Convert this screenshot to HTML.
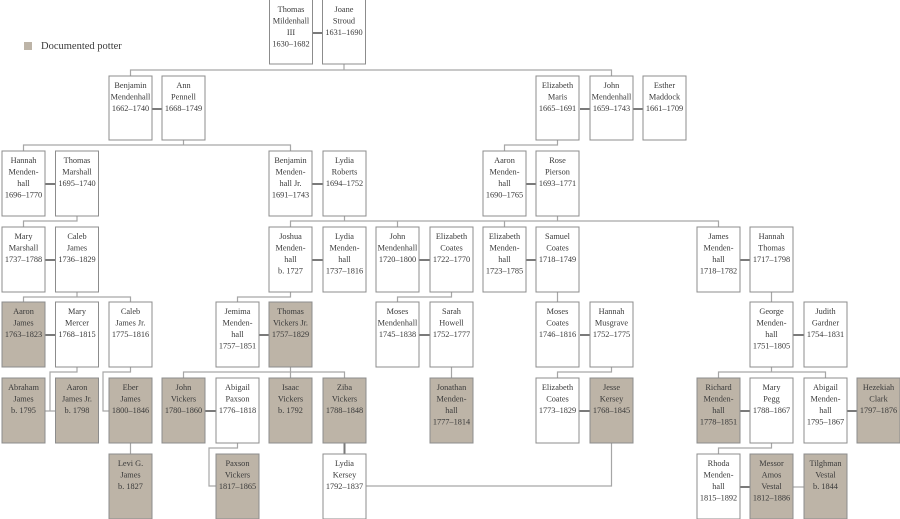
<!DOCTYPE html>
<html><head><meta charset="utf-8"><style>
html,body{margin:0;padding:0;background:#fff;}
svg{display:block;}
text{font-family:"Liberation Serif",serif;font-size:8.3px;fill:#3a3a3a;text-anchor:middle;}
.b{fill:#fff;stroke:#8c8c8c;stroke-width:1;}
.f{fill:#bdb4a7;stroke:#8c8c8c;stroke-width:1;}
.l{stroke:#a6a6a6;stroke-width:1.2;fill:none;}
.s{stroke:#7a7a7a;stroke-width:2;fill:none;}
</style></head><body>
<svg width="900" height="519" viewBox="0 0 900 519" xmlns="http://www.w3.org/2000/svg">
<rect x="24" y="42" width="8" height="8" fill="#bdb4a7"/>
<text x="41" y="49" style="text-anchor:start;font-size:10.5px">Documented potter</text>

<g class="l">
<path d="M344 64V70M130.5 76V70H611.5V76"/>
<path d="M183.5 140V145M23.5 151V145H290.5V151"/>
<path d="M557.5 140V145H504.5V151"/>
<path d="M77 216V221H23.5V227"/>
<path d="M344.5 216V221M290.5 227V221H718.5V227M397.5 221V227M504.5 221V227M557.5 216V221"/>
<path d="M77 292V297M23.5 302V297H130.5V302"/>
<path d="M290.5 292V297H237.5V302"/>
<path d="M451.5 292V297H397.5V302"/>
<path d="M557.5 292V302"/>
<path d="M771.5 292V302"/>
<path d="M77 367V372H50V411M45 411H55"/>
<path d="M130.5 367V372H103V411H109"/>
<path d="M290.5 367V372M183.5 378V372H344.5V378M290.5 372V378"/>
<path d="M451.5 367V378"/>
<path d="M611.5 367V372H557.5V378"/>
<path d="M771.5 367V372M718.5 378V372H825.5V378"/>
<path d="M237.5 443V448H209V486H216"/>
<path d="M365 486H611.5V443"/>
<path d="M771.5 443V448H718.5V454"/>
<path d="M130.5 443V454"/>
<path d="M793 487H804"/>
</g>
<g class="s">
<path d="M312 33H323M152 109H162M580 109H590M633 109H643"/>
<path d="M45 184H55M312 184H323M526 184H536"/>
<path d="M45 260H55M312 260H323M419 260H430M526 260H536M740 260H750"/>
<path d="M45 335H55M259 335H269M419 335H430M580 335H590M793 335H804"/>
<path d="M205 411H216M579 411H590M740 411H750M847 411H857"/>
<path d="M344.5 443V454M740 487H750"/>
</g>

<g>
<rect class="b" x="269.5" y="-1" width="43" height="65"/><text x="291" y="12">Thomas</text><text x="291" y="23.5">Mildenhall</text><text x="291" y="35">III</text><text x="291" y="46.5">1630–1682</text>
<rect class="b" x="322.5" y="-1" width="43" height="65"/><text x="344" y="12">Joane</text><text x="344" y="23.5">Stroud</text><text x="344" y="35">1631–1690</text>

<rect class="b" x="109" y="76" width="43" height="64"/><text x="130.5" y="88">Benjamin</text><text x="130.5" y="99.5">Mendenhall</text><text x="130.5" y="111">1662–1740</text>
<rect class="b" x="162" y="76" width="43" height="64"/><text x="183.5" y="88">Ann</text><text x="183.5" y="99.5">Pennell</text><text x="183.5" y="111">1668–1749</text>
<rect class="b" x="536" y="76" width="43" height="64"/><text x="557.5" y="88">Elizabeth</text><text x="557.5" y="99.5">Maris</text><text x="557.5" y="111">1665–1691</text>
<rect class="b" x="590" y="76" width="43" height="64"/><text x="611.5" y="88">John</text><text x="611.5" y="99.5">Mendenhall</text><text x="611.5" y="111">1659–1743</text>
<rect class="b" x="643" y="76" width="43" height="64"/><text x="664.5" y="88">Esther</text><text x="664.5" y="99.5">Maddock</text><text x="664.5" y="111">1661–1709</text>

<rect class="b" x="2" y="151" width="43" height="65"/><text x="23.5" y="163">Hannah</text><text x="23.5" y="174.5">Menden-</text><text x="23.5" y="186">hall</text><text x="23.5" y="197.5">1696–1770</text>
<rect class="b" x="55.5" y="151" width="43" height="65"/><text x="77" y="163">Thomas</text><text x="77" y="174.5">Marshall</text><text x="77" y="186">1695–1740</text>
<rect class="b" x="269" y="151" width="43" height="65"/><text x="290.5" y="163">Benjamin</text><text x="290.5" y="174.5">Menden-</text><text x="290.5" y="186">hall Jr.</text><text x="290.5" y="197.5">1691–1743</text>
<rect class="b" x="323" y="151" width="43" height="65"/><text x="344.5" y="163">Lydia</text><text x="344.5" y="174.5">Roberts</text><text x="344.5" y="186">1694–1752</text>
<rect class="b" x="483" y="151" width="43" height="65"/><text x="504.5" y="163">Aaron</text><text x="504.5" y="174.5">Menden-</text><text x="504.5" y="186">hall</text><text x="504.5" y="197.5">1690–1765</text>
<rect class="b" x="536" y="151" width="43" height="65"/><text x="557.5" y="163">Rose</text><text x="557.5" y="174.5">Pierson</text><text x="557.5" y="186">1693–1771</text>

<rect class="b" x="2" y="227" width="43" height="65"/><text x="23.5" y="239">Mary</text><text x="23.5" y="250.5">Marshall</text><text x="23.5" y="262">1737–1788</text>
<rect class="b" x="55.5" y="227" width="43" height="65"/><text x="77" y="239">Caleb</text><text x="77" y="250.5">James</text><text x="77" y="262">1736–1829</text>
<rect class="b" x="269" y="227" width="43" height="65"/><text x="290.5" y="239">Joshua</text><text x="290.5" y="250.5">Menden-</text><text x="290.5" y="262">hall</text><text x="290.5" y="273.5">b. 1727</text>
<rect class="b" x="323" y="227" width="43" height="65"/><text x="344.5" y="239">Lydia</text><text x="344.5" y="250.5">Menden-</text><text x="344.5" y="262">hall</text><text x="344.5" y="273.5">1737–1816</text>
<rect class="b" x="376" y="227" width="43" height="65"/><text x="397.5" y="239">John</text><text x="397.5" y="250.5">Mendenhall</text><text x="397.5" y="262">1720–1800</text>
<rect class="b" x="430" y="227" width="43" height="65"/><text x="451.5" y="239">Elizabeth</text><text x="451.5" y="250.5">Coates</text><text x="451.5" y="262">1722–1770</text>
<rect class="b" x="483" y="227" width="43" height="65"/><text x="504.5" y="239">Elizabeth</text><text x="504.5" y="250.5">Menden-</text><text x="504.5" y="262">hall</text><text x="504.5" y="273.5">1723–1785</text>
<rect class="b" x="536" y="227" width="43" height="65"/><text x="557.5" y="239">Samuel</text><text x="557.5" y="250.5">Coates</text><text x="557.5" y="262">1718–1749</text>
<rect class="b" x="697" y="227" width="43" height="65"/><text x="718.5" y="239">James</text><text x="718.5" y="250.5">Menden-</text><text x="718.5" y="262">hall</text><text x="718.5" y="273.5">1718–1782</text>
<rect class="b" x="750" y="227" width="43" height="65"/><text x="771.5" y="239">Hannah</text><text x="771.5" y="250.5">Thomas</text><text x="771.5" y="262">1717–1798</text>

<rect class="f" x="2" y="302" width="43" height="65"/><text x="23.5" y="314">Aaron</text><text x="23.5" y="325.5">James</text><text x="23.5" y="337">1763–1823</text>
<rect class="b" x="55.5" y="302" width="43" height="65"/><text x="77" y="314">Mary</text><text x="77" y="325.5">Mercer</text><text x="77" y="337">1768–1815</text>
<rect class="b" x="109" y="302" width="43" height="65"/><text x="130.5" y="314">Caleb</text><text x="130.5" y="325.5">James Jr.</text><text x="130.5" y="337">1775–1816</text>
<rect class="b" x="216" y="302" width="43" height="65"/><text x="237.5" y="314">Jemima</text><text x="237.5" y="325.5">Menden-</text><text x="237.5" y="337">hall</text><text x="237.5" y="348.5">1757–1851</text>
<rect class="f" x="269" y="302" width="43" height="65"/><text x="290.5" y="314">Thomas</text><text x="290.5" y="325.5">Vickers Jr.</text><text x="290.5" y="337">1757–1829</text>
<rect class="b" x="376" y="302" width="43" height="65"/><text x="397.5" y="314">Moses</text><text x="397.5" y="325.5">Mendenhall</text><text x="397.5" y="337">1745–1838</text>
<rect class="b" x="430" y="302" width="43" height="65"/><text x="451.5" y="314">Sarah</text><text x="451.5" y="325.5">Howell</text><text x="451.5" y="337">1752–1777</text>
<rect class="b" x="536" y="302" width="43" height="65"/><text x="557.5" y="314">Moses</text><text x="557.5" y="325.5">Coates</text><text x="557.5" y="337">1746–1816</text>
<rect class="b" x="590" y="302" width="43" height="65"/><text x="611.5" y="314">Hannah</text><text x="611.5" y="325.5">Musgrave</text><text x="611.5" y="337">1752–1775</text>
<rect class="b" x="750" y="302" width="43" height="65"/><text x="771.5" y="314">George</text><text x="771.5" y="325.5">Menden-</text><text x="771.5" y="337">hall</text><text x="771.5" y="348.5">1751–1805</text>
<rect class="b" x="804" y="302" width="43" height="65"/><text x="825.5" y="314">Judith</text><text x="825.5" y="325.5">Gardner</text><text x="825.5" y="337">1754–1831</text>

<rect class="f" x="2" y="378" width="43" height="65"/><text x="23.5" y="390">Abraham</text><text x="23.5" y="401.5">James</text><text x="23.5" y="413">b. 1795</text>
<rect class="f" x="55.5" y="378" width="43" height="65"/><text x="77" y="390">Aaron</text><text x="77" y="401.5">James Jr.</text><text x="77" y="413">b. 1798</text>
<rect class="f" x="109" y="378" width="43" height="65"/><text x="130.5" y="390">Eber</text><text x="130.5" y="401.5">James</text><text x="130.5" y="413">1800–1846</text>
<rect class="f" x="162" y="378" width="43" height="65"/><text x="183.5" y="390">John</text><text x="183.5" y="401.5">Vickers</text><text x="183.5" y="413">1780–1860</text>
<rect class="b" x="216" y="378" width="43" height="65"/><text x="237.5" y="390">Abigail</text><text x="237.5" y="401.5">Paxson</text><text x="237.5" y="413">1776–1818</text>
<rect class="f" x="269" y="378" width="43" height="65"/><text x="290.5" y="390">Isaac</text><text x="290.5" y="401.5">Vickers</text><text x="290.5" y="413">b. 1792</text>
<rect class="f" x="323" y="378" width="43" height="65"/><text x="344.5" y="390">Ziba</text><text x="344.5" y="401.5">Vickers</text><text x="344.5" y="413">1788–1848</text>
<rect class="f" x="430" y="378" width="43" height="65"/><text x="451.5" y="390">Jonathan</text><text x="451.5" y="401.5">Menden-</text><text x="451.5" y="413">hall</text><text x="451.5" y="424.5">1777–1814</text>
<rect class="b" x="536" y="378" width="43" height="65"/><text x="557.5" y="390">Elizabeth</text><text x="557.5" y="401.5">Coates</text><text x="557.5" y="413">1773–1829</text>
<rect class="f" x="590" y="378" width="43" height="65"/><text x="611.5" y="390">Jesse</text><text x="611.5" y="401.5">Kersey</text><text x="611.5" y="413">1768–1845</text>
<rect class="f" x="697" y="378" width="43" height="65"/><text x="718.5" y="390">Richard</text><text x="718.5" y="401.5">Menden-</text><text x="718.5" y="413">hall</text><text x="718.5" y="424.5">1778–1851</text>
<rect class="b" x="750" y="378" width="43" height="65"/><text x="771.5" y="390">Mary</text><text x="771.5" y="401.5">Pegg</text><text x="771.5" y="413">1788–1867</text>
<rect class="b" x="804" y="378" width="43" height="65"/><text x="825.5" y="390">Abigail</text><text x="825.5" y="401.5">Menden-</text><text x="825.5" y="413">hall</text><text x="825.5" y="424.5">1795–1867</text>
<rect class="f" x="857" y="378" width="43" height="65"/><text x="878.5" y="390">Hezekiah</text><text x="878.5" y="401.5">Clark</text><text x="878.5" y="413">1797–1876</text>

<rect class="f" x="109" y="454" width="43" height="65"/><text x="130.5" y="466">Levi G.</text><text x="130.5" y="477.5">James</text><text x="130.5" y="489">b. 1827</text>
<rect class="f" x="216" y="454" width="43" height="65"/><text x="237.5" y="466">Paxson</text><text x="237.5" y="477.5">Vickers</text><text x="237.5" y="489">1817–1865</text>
<rect class="b" x="323" y="454" width="43" height="65"/><text x="344.5" y="466">Lydia</text><text x="344.5" y="477.5">Kersey</text><text x="344.5" y="489">1792–1837</text>
<rect class="b" x="697" y="454" width="43" height="65"/><text x="718.5" y="466">Rhoda</text><text x="718.5" y="477.5">Menden-</text><text x="718.5" y="489">hall</text><text x="718.5" y="500.5">1815–1892</text>
<rect class="f" x="750" y="454" width="43" height="65"/><text x="771.5" y="466">Messor</text><text x="771.5" y="477.5">Amos</text><text x="771.5" y="489">Vestal</text><text x="771.5" y="500.5">1812–1886</text>
<rect class="f" x="804" y="454" width="43" height="65"/><text x="825.5" y="466">Tilghman</text><text x="825.5" y="477.5">Vestal</text><text x="825.5" y="489">b. 1844</text>
</g>
</svg>
</body></html>
